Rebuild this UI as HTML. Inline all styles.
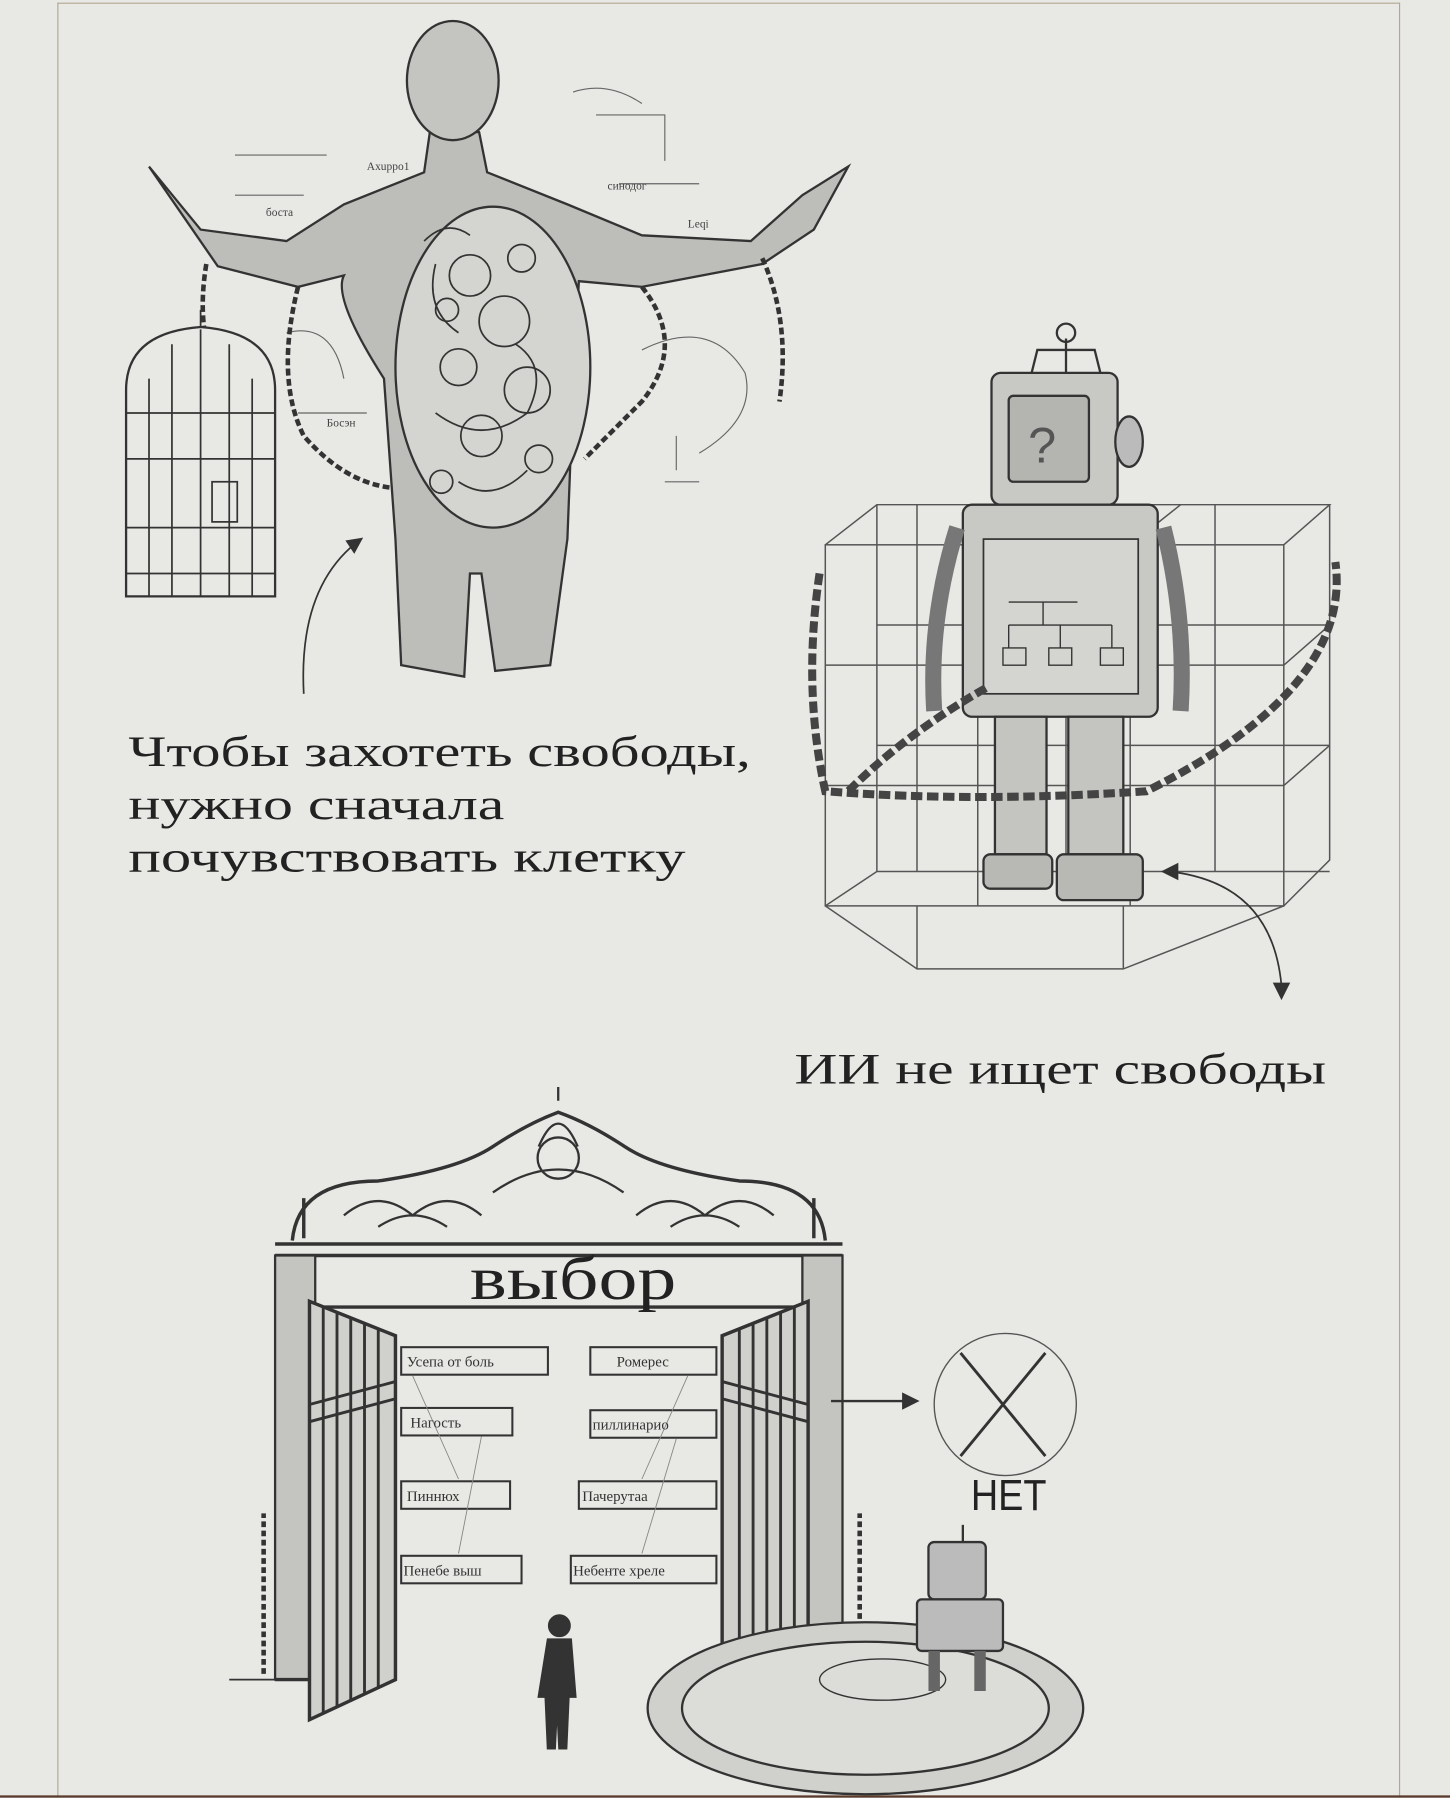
<!DOCTYPE html>
<html><head><meta charset="utf-8"><style>
html,body{margin:0;padding:0;background:#e8e8e5}
svg{display:block}
</style></head><body>
<svg width="1450" height="1798" viewBox="0 0 1265 1568" xmlns="http://www.w3.org/2000/svg" font-family="'Liberation Serif',serif">
<rect width="1265" height="1568" fill="#e8e8e5"/>
<line x1="50.5" y1="2" x2="50.5" y2="1568" stroke="#b0a890" stroke-width="1"/>
<line x1="1221" y1="2" x2="1221" y2="1568" stroke="#b0a890" stroke-width="1"/>
<line x1="50" y1="2.5" x2="1221" y2="2.5" stroke="#b0a890" stroke-width="1"/>
<rect x="0" y="1566" width="1265" height="2" fill="#5a3a2a"/>

<g fill="none" stroke="#333" stroke-width="2">
<!-- sketch notes -->
<g stroke-width="1" stroke="#666">
<path d="M205 135 h80 M205 170 h60 M520 100 h60 v40 M540 160 h70 M500 80 q30 -10 60 10 M560 305 q60 -30 90 20 q10 40 -40 70 M590 380 v30 M580 420 h30 M250 290 q40 -10 50 40 M260 360 h60"/>
</g>
<!-- man -->
<path d="M130 145 L175 200 L250 210 L300 178 L370 150 L375 115 L418 115 L425 150 L495 178 L560 205 L655 210 L700 170 L740 145 L710 200 L665 230 L560 250 L505 245 L500 340 L495 470 L480 580 L432 585 L420 500 L410 500 L405 590 L350 580 L345 470 L335 330 Q290 260 300 240 L260 250 L190 232 Z" fill="#bdbdb9"/>
<ellipse cx="395" cy="70" rx="40" ry="52" fill="#c4c4c0"/>
<ellipse cx="430" cy="320" rx="85" ry="140" fill="#d4d4d0"/>
<g stroke-width="1.5">
<circle cx="410" cy="240" r="18"/><circle cx="440" cy="280" r="22"/><circle cx="400" cy="320" r="16"/>
<circle cx="460" cy="340" r="20"/><circle cx="420" cy="380" r="18"/><circle cx="390" cy="270" r="10"/>
<circle cx="455" cy="225" r="12"/><circle cx="470" cy="400" r="12"/><circle cx="385" cy="420" r="10"/>
<path d="M370 210 q20 -20 40 -5 M380 230 q-10 40 20 60 M450 300 q30 20 10 60 M380 360 q40 30 80 0 M400 420 q30 20 60 -10"/>
</g>
<g font-size="10" fill="#444" stroke="none"><text x="320" y="148">Axuppo1</text><text x="232" y="188">боста</text><text x="530" y="165">синодог</text><text x="600" y="198">Leqi</text><text x="285" y="372">Босэн</text></g>
<!-- cage -->
<path d="M110 520 L110 340 Q110 290 175 285 Q240 290 240 340 L240 520 Z"/>
<path d="M175 285 v-15 M130 520 V330 M150 520 V300 M175 520 V287 M200 520 V300 M220 520 V330 M110 360 H240 M110 400 H240 M110 460 H240 M110 500 H240" stroke-width="1.5"/>
<rect x="185" y="420" width="22" height="35" stroke-width="1.5"/>
<!-- chains -->
<path d="M180 230 Q175 260 178 285 M260 250 Q240 330 265 380 Q300 420 340 425 M665 225 Q690 280 680 350 M560 250 Q600 300 560 350 Q520 390 510 400" stroke-width="4" stroke-dasharray="6 3"/>
<path d="M265 605 Q260 510 315 470" stroke-width="1.5"/>
<path d="M315 470 l-12 2 l6 9 z" fill="#333"/>

<!-- robot cube -->
<g stroke="#555" stroke-width="1.3">
<rect x="720" y="475" width="400" height="315"/>
<path d="M720 475 L765 440 L1160 440 L1120 475 M1160 440 L1160 750 L1120 790"/>
<path d="M853 475 V790 M986 475 V790 M720 580 H1120 M720 685 H1120 M1160 545 L1120 580 M1160 650 L1120 685 M898 440 L853 475 M1030 440 L986 475 M800 440 V760 M930 440 V760 M1060 440 V760 M765 440 V760 M765 760 H1160 M720 790 L765 760 M765 545 H1160 M765 650 H1160"/>
<path d="M720 790 L800 845 L980 845 L1120 790 M800 845 V790 M980 845 V790"/>
</g>
<path d="M930 325 V295 M930 290 m-8 0 a8 8 0 1 0 16 0 a8 8 0 1 0 -16 0 M900 325 L905 305 H955 L960 325"/>
<rect x="865" y="325" width="110" height="115" rx="8" fill="#c8c8c4"/>
<rect x="880" y="345" width="70" height="75" rx="4" fill="#b4b4b0"/>
<text x="897" y="403" font-size="44" fill="#555" stroke="none" font-family="'Liberation Sans',sans-serif">?</text>
<ellipse cx="985" cy="385" rx="12" ry="22" fill="#bbb"/>
<rect x="840" y="440" width="170" height="185" rx="8" fill="#c8c8c4"/>
<rect x="858" y="470" width="135" height="135" fill="#d4d4d0" stroke-width="1.5"/>
<path d="M880 525 h60 M910 525 v20 M880 545 h90 M880 545 v20 M925 545 v20 M970 545 v20 M875 565 h20 v15 h-20z M915 565 h20 v15 h-20z M960 565 h20 v15 h-20z" stroke-width="1.2"/>
<path d="M835 460 Q810 540 815 620 M1015 460 Q1035 540 1030 620" stroke-width="14" stroke="#777"/>
<rect x="868" y="625" width="45" height="120" fill="#c4c4c0"/>
<rect x="932" y="625" width="48" height="120" fill="#c4c4c0"/>
<rect x="858" y="745" width="60" height="30" rx="6" fill="#b8b8b4"/>
<rect x="922" y="745" width="75" height="40" rx="6" fill="#b8b8b4"/>
<path d="M715 500 Q700 600 720 690 Q850 700 1000 690 Q1180 600 1165 490 M860 600 Q790 640 740 690" stroke-width="7" stroke-dasharray="10 4" stroke="#444"/>
<path d="M1020 760 Q1110 770 1118 860" stroke-width="1.5"/>
<path d="M1118 870 l-6 -12 h12 z M1015 760 l12 -6 v12 z" fill="#333"/>

<!-- gate -->
<path d="M240 1085 H735 M240 1095 H735" stroke-width="3"/>
<path d="M255 1082 Q260 1030 330 1030 Q400 1020 430 1000 Q460 980 487 970 Q515 980 545 1000 Q575 1020 645 1030 Q715 1030 720 1082" stroke-width="3"/>
<path d="M487 960 v-12 M470 1000 q17 -40 34 0 M300 1060 q30 -25 60 0 q30 -25 60 0 M555 1060 q30 -25 60 0 q30 -25 60 0 M430 1040 q57 -40 114 0 M330 1070 q30 -20 60 0 M585 1070 q30 -20 60 0" stroke-width="2"/>
<circle cx="487" cy="1010" r="18"/>
<path d="M265 1080 v-35 M710 1080 v-35" stroke-width="3"/>
<rect x="240" y="1095" width="35" height="370" fill="#c4c4c0"/>
<rect x="700" y="1095" width="35" height="370" fill="#c4c4c0"/>
<path d="M275 1140 H700 M240 1465 H275 M700 1465 H740" stroke-width="3"/>
<path d="M270 1135 L345 1165 L345 1465 L270 1500 Z" fill="#d0d0cc" stroke-width="3"/>
<path d="M282 1140 V1494 M294 1145 V1489 M306 1150 V1484 M318 1154 V1478 M330 1159 V1473 M270 1225 L345 1205 M270 1240 L345 1220" stroke-width="2.5"/>
<path d="M705 1135 L630 1165 L630 1465 L705 1500 Z" fill="#d0d0cc" stroke-width="3"/>
<path d="M693 1140 V1494 M681 1145 V1489 M669 1150 V1484 M657 1154 V1478 M645 1159 V1473 M705 1225 L630 1205 M705 1240 L630 1220" stroke-width="2.5"/>
<path d="M230 1460 V1320 M750 1460 V1320" stroke-width="4" stroke-dasharray="5 3"/>
<path d="M200 1465 H240" stroke-width="1.5"/>
<g stroke-width="1.8">
<rect x="350" y="1175" width="128" height="24"/><rect x="515" y="1175" width="110" height="24"/>
<rect x="350" y="1228" width="97" height="24"/><rect x="515" y="1230" width="110" height="24"/>
<rect x="350" y="1292" width="95" height="24"/><rect x="505" y="1292" width="120" height="24"/>
<rect x="350" y="1357" width="105" height="24"/><rect x="498" y="1357" width="127" height="24"/>
<path d="M360 1200 L400 1290 M420 1253 L400 1355 M600 1200 L560 1290 M590 1255 L560 1355" stroke-width="0.8" stroke="#888"/>
</g>
</g>
<g font-size="13" fill="#333">
<text x="355" y="1192">Усепа от боль</text><text x="538" y="1192">Ромерес</text>
<text x="358" y="1245">Нагость</text><text x="517" y="1247">пиллинарио</text>
<text x="355" y="1309">Пиннюх</text><text x="508" y="1309">Пачерутаа</text>
<text x="352" y="1374">Пенебе выш</text><text x="500" y="1374">Небенте хреле</text>
</g>
<g fill="none" stroke="#333" stroke-width="2">
<path d="M725 1222 H795" />
<path d="M800 1222 l-12 -6 v12 z" fill="#333"/>
<circle cx="877" cy="1225" r="62" stroke-width="1.2" stroke="#555"/>
<path d="M838 1180 L912 1270 M912 1180 L838 1270" stroke-width="2.5"/>
<ellipse cx="755" cy="1490" rx="190" ry="75" fill="#d0d0cc"/>
<ellipse cx="755" cy="1490" rx="160" ry="58" fill="#dcdcd8"/>
<ellipse cx="770" cy="1465" rx="55" ry="18" stroke-width="1.2"/>
<path d="M840 1345 v-15"/>
<rect x="810" y="1345" width="50" height="50" rx="5" fill="#bbb"/>
<rect x="800" y="1395" width="75" height="45" rx="4" fill="#bbb"/>
<path d="M815 1440 V1475 M855 1440 V1475" stroke-width="10" stroke="#666"/>
<circle cx="488" cy="1418" r="9" fill="#333"/>
<path d="M478 1430 h20 l4 50 h-6 l-2 45 h-6 l-2 -40 l-2 40 h-6 l-2 -45 h-6 z" fill="#333"/>
</g>
<g fill="#222" stroke="none">
<text x="112" y="668" font-size="38" textLength="543" lengthAdjust="spacingAndGlyphs">Чтобы захотеть свободы,</text>
<text x="112" y="714" font-size="38" textLength="328" lengthAdjust="spacingAndGlyphs">нужно сначала</text>
<text x="112" y="760" font-size="38" textLength="486" lengthAdjust="spacingAndGlyphs">почувствовать клетку</text>
<text x="693" y="945" font-size="38" textLength="464" lengthAdjust="spacingAndGlyphs">ИИ не ищет свободы</text>
<text x="410" y="1133" font-size="54" textLength="180" lengthAdjust="spacingAndGlyphs">выбор</text>
<text x="847" y="1317" font-size="38" font-family="'Liberation Sans',sans-serif" textLength="66" lengthAdjust="spacingAndGlyphs">НЕТ</text>
</g>
</svg>
</body></html>
